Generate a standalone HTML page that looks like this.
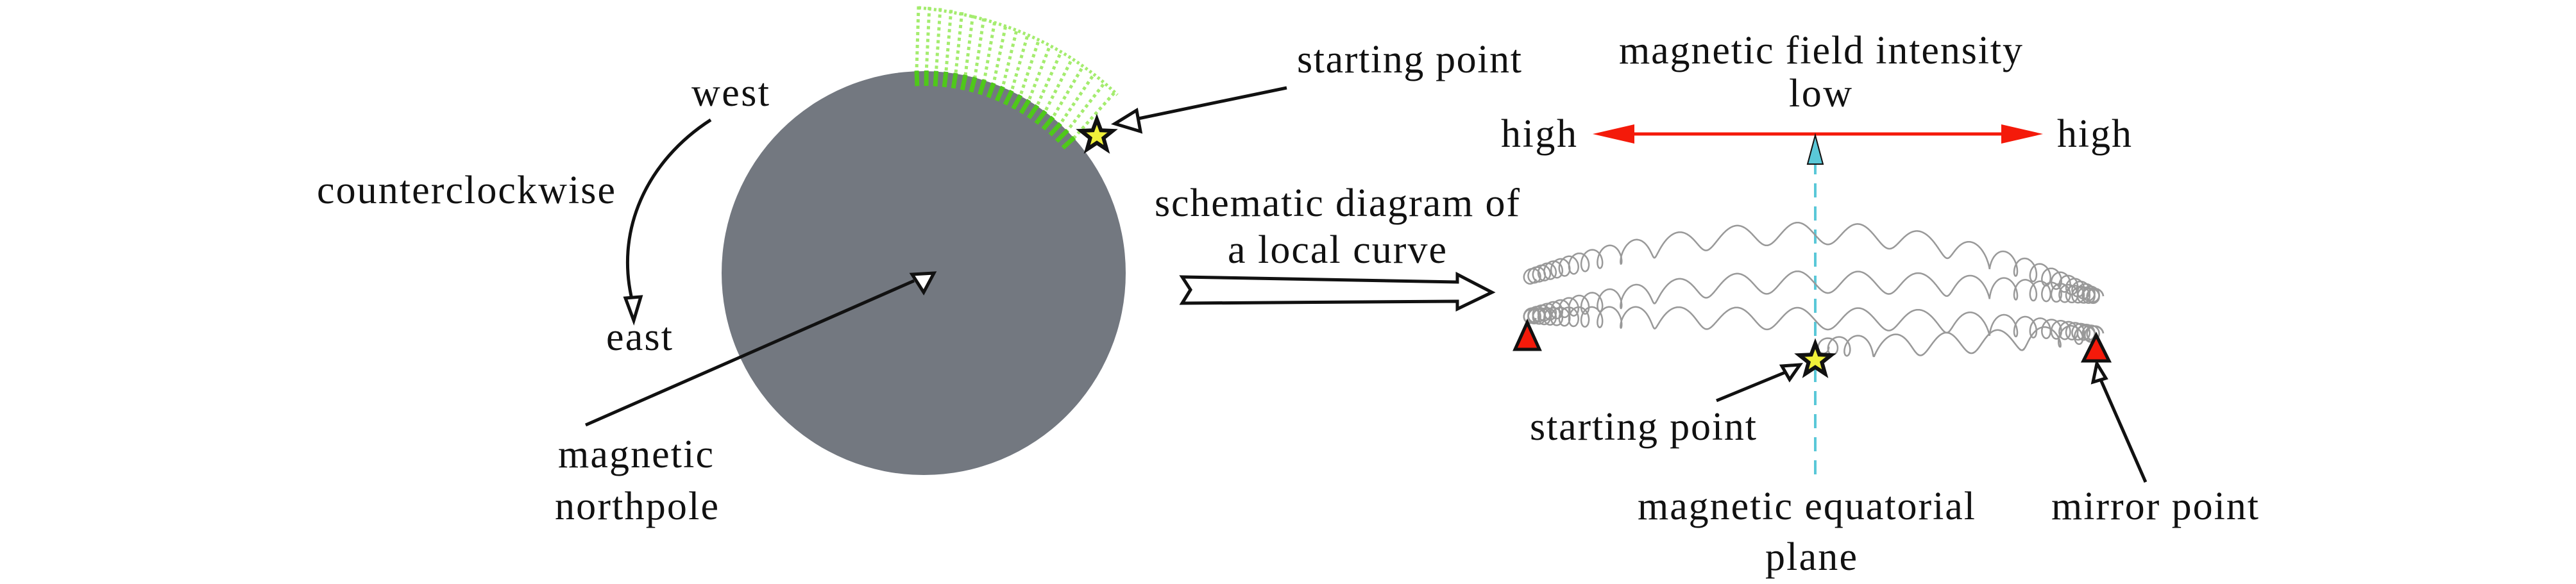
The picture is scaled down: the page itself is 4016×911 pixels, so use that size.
<!DOCTYPE html>
<html><head><meta charset="utf-8"><style>
html,body{margin:0;padding:0;background:#fff;}
svg{display:block}
text{font-family:"Liberation Serif","DejaVu Serif","Times New Roman",serif;font-size:62px;fill:#111;}
</style></head><body>
<svg id="s" width="4016" height="911" viewBox="0 0 4016 911" xmlns="http://www.w3.org/2000/svg">
<circle cx="1440" cy="426" r="315" fill="#737880"/>
<g id="fan" stroke="#8ee84a" stroke-width="5" stroke-dasharray="5 5" fill="none" opacity="0.8"></g>
<g id="fan2" stroke="#4fc81a" stroke-width="7" fill="none"></g>
<text x="1078" y="165" textLength="121">west</text>
<text x="494" y="317" textLength="465">counterclockwise</text>
<text x="945" y="546" textLength="103">east</text>
<text x="870" y="729" textLength="242">magnetic</text>
<text x="865" y="810" textLength="255">northpole</text>
<path d="M1108,187 C1010,250 955,360 988,478" stroke="#111" stroke-width="5" fill="none"/>
<polygon points="988,500 975,465 999,463" fill="#fff" stroke="#111" stroke-width="5"/>
<line x1="913" y1="663" x2="1425" y2="438" stroke="#111" stroke-width="5"/>
<polygon points="1422,428 1456,426 1440,456" fill="#fff" stroke="#111" stroke-width="5"/>
<line x1="2006" y1="137" x2="1760" y2="188" stroke="#111" stroke-width="5"/>
<polygon points="1738,193 1772,172 1778,205" fill="#fff" stroke="#111" stroke-width="5"/>
<text x="2022" y="113" textLength="350">starting point</text>
<polygon id="star1" fill="#f0f03a" stroke="#111" stroke-width="6"/>
<text x="1800" y="337" textLength="569">schematic diagram of</text>
<text x="1914" y="410" textLength="341">a local curve</text>
<polygon points="1843,432 2272,440 2272,428 2326,456 2272,482 2272,470 1843,473 1856,452" fill="#fff" stroke="#111" stroke-width="5"/>
<text x="2524" y="99" textLength="629">magnetic field intensity</text>
<text x="2789" y="166" textLength="98">low</text>
<text x="2340" y="229" textLength="118">high</text>
<text x="3207" y="229" textLength="116">high</text>
<line x1="2540" y1="209" x2="3130" y2="209" stroke="#f41a0a" stroke-width="5"/>
<polygon points="2483,209 2548,194 2548,224" fill="#f41a0a"/>
<polygon points="3185,209 3120,194 3120,224" fill="#f41a0a"/>
<line x1="2830" y1="250" x2="2830" y2="744" stroke="#5ac8d8" stroke-width="4" stroke-dasharray="22 14"/>
<polygon points="2830,211 2818,256 2842,256" fill="#5ac8d8" stroke="#111" stroke-width="2"/>
<g id="waves" stroke="#999" stroke-width="2.5" fill="none"></g>
<polygon points="2381,503 2362,545 2400,545" fill="#f41a0a" stroke="#111" stroke-width="5"/>
<polygon points="3268,523 3248,563 3288,563" fill="#f41a0a" stroke="#111" stroke-width="5"/>
<polygon id="star2" fill="#f0f03a" stroke="#111" stroke-width="6"/>
<line x1="2676" y1="625" x2="2790" y2="578" stroke="#111" stroke-width="5"/>
<polygon points="2806,569 2778,571 2790,592" fill="#fff" stroke="#111" stroke-width="5"/>
<text x="2385" y="686" textLength="353">starting point</text>
<line x1="3345" y1="752" x2="3274" y2="590" stroke="#111" stroke-width="5"/>
<polygon points="3269,567 3263,596 3283,590" fill="#fff" stroke="#111" stroke-width="5"/>
<text x="2553" y="810" textLength="526">magnetic equatorial</text>
<text x="2752" y="889" textLength="143">plane</text>
<text x="3198" y="810" textLength="323">mirror point</text>
</svg>
<script>
var NS="http://www.w3.org/2000/svg";
function el(p,t,a){var e=document.createElementNS(NS,t);for(var k in a)e.setAttribute(k,a[k]);document.getElementById(p).appendChild(e);return e;}
function star(id,cx,cy,R){var r=R*0.42,p=[];for(var i=0;i<10;i++){var a=-Math.PI/2+i*Math.PI/5,rr=i%2?r:R;p.push((cx+rr*Math.cos(a)).toFixed(1)+","+(cy+rr*Math.sin(a)).toFixed(1));}document.getElementById(id).setAttribute("points",p.join(" "));}
star("star1",1710,212,26);star("star2",2830,562,26);
var N=19;for(var i=0;i<N;i++){var t=i/(N-1);
 var ox=1432+t*305, oy=10+Math.pow(t,1.8)*135;
 var ao=(-92+t*50)*Math.PI/180;
 var ex=1440+316*Math.cos(ao),ey=426+316*Math.sin(ao);
 var ix=1440+292*Math.cos(ao),iy=426+292*Math.sin(ao);
 el("fan","line",{x1:ox.toFixed(1),y1:oy.toFixed(1),x2:ex.toFixed(1),y2:ey.toFixed(1)});
 el("fan2","line",{x1:ex.toFixed(1),y1:ey.toFixed(1),x2:ix.toFixed(1),y2:iy.toFixed(1)});}
el("fan","path",{d:"M1432,12 Q1620,30 1742,148","stroke-dasharray":"4 4"});
function wave(x0,x1,yL,yM,yR,xm,cyc,dense){
 var d="",n=3000;var tot=0,ws=[];
 for(var i=0;i<=n;i++){var s=i/n;var w=1+dense*Math.pow(Math.abs(2*s-1),6);ws.push(w);tot+=w;}
 var acc=0;
 for(var i=0;i<=n;i++){var s=i/n;acc+=ws[i];var ph=2*Math.PI*cyc*acc/tot;
  var bx=x0+(x1-x0)*s;var m=(xm-x0)/(x1-x0);
  var by;if(s<m){var q=s/m;by=yL+(yM-yL)*(1-Math.pow(1-q,2));}else{var q=(s-m)/(1-m);by=yM+(yR-yM)*q*q;}
  var edge=Math.min(1,Math.abs(2*s-1));var amp=17*(1-0.35*Math.pow(edge,6));
  var xa=amp*(0.1+0.9*edge*edge);
  var x=bx+xa*Math.cos(ph),y=by+amp*Math.sin(ph);
  d+=(i?"L":"M")+x.toFixed(1)+","+y.toFixed(1);}
 el("waves","path",{d:d});}
wave(2384,3268,432,364,462,2827,28,14);
wave(2384,3268,493,440,462,2827,28,14);
wave(2384,3268,493,497,520,2827,28,14);
wave(2840,3268,545,540,520,2840,10,6);
</script>
</body></html>
